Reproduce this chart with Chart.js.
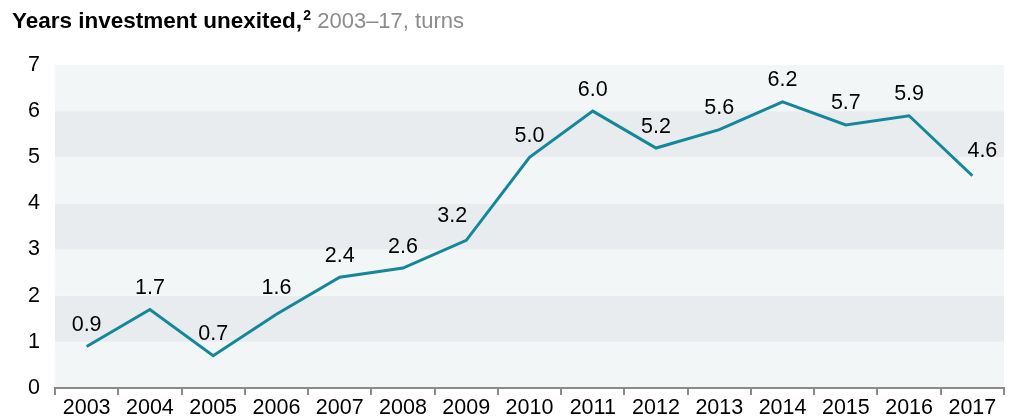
<!DOCTYPE html>
<html>
<head>
<meta charset="utf-8">
<script src="https://cdn.jsdelivr.net/npm/chart.js@4/dist/chart.umd.min.js"></script>
<style>
  body { margin: 0; background: #fff; font-family: "Liberation Sans", Arial, sans-serif; }
  #wrap { position: relative; width: 1010px; height: 420px; }
  #title { position: absolute; left: 12px; top: 8px; font-size: 22.5px; color: #000; white-space: nowrap; }
  #title b { font-weight: bold; }
  #title sup { font-size: 14px; font-weight: bold; vertical-align: 8px; line-height: 0; margin-left: 1px; }
  #title span { color: #8c8c8c; font-size: 22px; }
  canvas { position: absolute; left: 0; top: 0; }
</style>
</head>
<body>
<div id="wrap">
  <canvas id="chart" width="1010" height="420"></canvas>
  <div id="title"><b>Years investment unexited,</b><sup>2</sup> <span>2003–17, turns</span></div>
</div>
<script>
// data
const years = ["2003", "2004", "2005", "2006", "2007", "2008", "2009", "2010",
               "2011", "2012", "2013", "2014", "2015", "2016", "2017"];
const turns = [0.9, 1.7, 0.7, 1.6, 2.4, 2.6, 3.2, 5.0, 6.0, 5.2, 5.6, 6.2, 5.7, 5.9, 4.6];

const fontFamily = '"Liberation Sans", Arial, sans-serif';
const fontSize = 21.5;

// a few labels sit off the default spot so they clear the line (index -> [dx, dy])
const labelNudge = { 3: [0, -5], 6: [-14, -3], 14: [10, -3] };

// alternating horizontal bands behind the line
const bandsPlugin = {
    id: "bands",
    beforeDraw(chart) {
        const ctx = chart.ctx;
        const area = chart.chartArea;
        const y = chart.scales.y;
        ctx.save();
        for (let v = 0; v < 7; v++) {
            const top = y.getPixelForValue(v + 1);
            const bottom = y.getPixelForValue(v);
            ctx.fillStyle = v % 2 === 0 ? "#f3f6f7" : "#e9ecef";
            ctx.fillRect(area.left, top, area.right - area.left, bottom - top);
        }
        ctx.restore();
    }
};

// value labels above each point
const labelsPlugin = {
    id: "pointLabels",
    afterDatasetsDraw(chart) {
        const ctx = chart.ctx;
        const meta = chart.getDatasetMeta(0);
        ctx.save();
        ctx.font = fontSize + "px " + fontFamily;
        ctx.fillStyle = "#000";
        ctx.textAlign = "center";
        ctx.textBaseline = "alphabetic";
        meta.data.forEach((pt, i) => {
            const nudge = labelNudge[i] || [0, 0];
            ctx.fillText(turns[i].toFixed(1), pt.x + nudge[0], pt.y - 15.5 + nudge[1]);
        });
        ctx.restore();
    }
};

const ctx = document.getElementById("chart").getContext("2d");
new Chart(ctx, {
    type: "line",
    data: {
        labels: years,
        datasets: [{
            data: turns,
            borderColor: "#14879a",
            borderWidth: 3,
            pointRadius: 0,
            tension: 0,
            fill: false
        }]
    },
    options: {
        responsive: false,
        animation: false,
        layout: { padding: { top: 65, right: 6, left: 0, bottom: 0 } },
        plugins: {
            legend: { display: false },
            tooltip: { enabled: false }
        },
        scales: {
            x: {
                offset: true,
                afterFit(scale) { scale.height = 32; },
                grid: {
                    offset: true,
                    drawOnChartArea: false,
                    drawTicks: true,
                    tickLength: 7,
                    color: "#8a8a8a",
                    lineWidth: 2
                },
                border: { color: "#8a8a8a", width: 2 },
                ticks: {
                    color: "#000",
                    font: { size: fontSize, family: fontFamily },
                    padding: 0,
                    maxRotation: 0,
                    autoSkip: false
                }
            },
            y: {
                min: 0,
                max: 7,
                afterFit(scale) { scale.width = 55; },
                grid: { display: false, drawTicks: true, tickLength: 5 },
                border: { display: false },
                ticks: {
                    stepSize: 1,
                    color: "#000",
                    font: { size: fontSize, family: fontFamily },
                    padding: 10
                }
            }
        }
    },
    plugins: [bandsPlugin, labelsPlugin]
});
</script>
</body>
</html>
